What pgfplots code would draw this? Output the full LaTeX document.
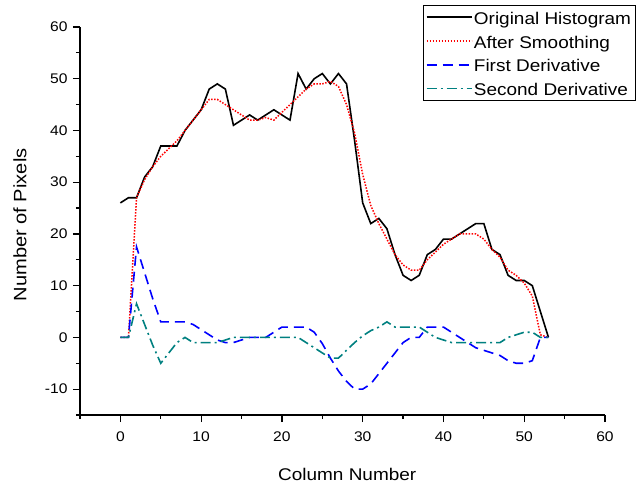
\documentclass[border=0pt]{standalone}
\usepackage{fontspec}
\setmainfont{Liberation Sans}[FakeStretch=1.12]
\usepackage{pgfplots}
\usepackage{pgfplotstable}
\pgfplotsset{compat=1.18}
\definecolor{tealc}{RGB}{0,128,128}

\pgfplotstableread{
x orig smooth first second
0 26 0 0 0
1 27 0 0 0
2 27 27 17.5 6.5
3 31 30.5 12.5 2.5
4 33 33 7.5 -1.5
5 37 35 3 -5
6 37 36.5 3 -3
7 37 38 3 -1
8 40 40 3 0
9 42 42 2.5 -1
10 44 44 1.5 -1
11 48 46 0.5 -1
12 49 46 -0.5 -1
13 48 45 -1 -0.5
14 41 44 -1 0
15 42 43 -0.5 0
16 43 42 0 0
17 42 42 0 0
18 43 42.5 0 0
19 44 42 1 0
20 43 43.5 2 0
21 42 45 2 0
22 51 46.5 2 0
23 48 48 2 -1
24 50 49 1 -2
25 51 49 -1.2 -3
26 49 49.5 -4 -4
27 51 48.5 -6.5 -4
28 49 45 -8.5 -2.5
29 38 39.5 -10 -1
30 26 31.5 -10 0.3
31 22 25.5 -9 1.3
32 23 22 -7 2
33 21 19 -5 3
34 16 16 -3 2
35 12 14 -1 2
36 11 13 0 2
37 12 13 0 2
38 16 15 2 1
39 17 16.5 2 0
40 19 18 2 -0.5
41 19 19 1 -1
42 20 20 0 -1
43 21 20 -1 -1
44 22 20 -2 -1
45 22 19 -2.5 -1
46 17 17 -3 -1
47 16 15.5 -3.5 -1
48 12 13 -4.5 0
49 11 12 -5 0.5
50 11 10.5 -5 1
51 10 8 -4.5 1
52 5 0.5 0 0
53 0 0 0 0
}\datatable

\begin{document}
\begin{tikzpicture}
\useasboundingbox (-80bp,-73bp) rectangle (556bp,415bp);
\begin{axis}[
  at={(0,0)}, anchor=south west,
  scale only axis,
  width=525bp, height=388bp,
  xmin=-5, xmax=60, ymin=-15, ymax=60,
  axis lines*=left,
  axis line style={black, line width=1.2bp},
  xtick={0,10,...,60}, minor xtick={-5,5,...,55},
  ytick={-10,0,...,60}, minor ytick={-15,-5,...,55},
  tick align=outside,
  major tick length=7bp, minor tick length=4bp,
  every tick/.style={black, line width=1.2bp},
  /pgf/number format/assume math mode=true,
  tick label style={font=\fontsize{14}{16}\selectfont},
  xticklabel style={yshift=-6bp},
  yticklabel style={xshift=-2bp},
  xlabel={Column Number},
  ylabel={Number of Pixels},
  xlabel style={font=\fontsize{17}{19}\selectfont, at={(axis description cs:0.509,-0.168)}, anchor=base},
  ylabel style={font=\fontsize{18}{20}\selectfont, at={(axis description cs:-0.102,0.49)}, anchor=base, rotate=0},
  legend style={at={(rel axis cs:1.0581,1.057)}, anchor=north east,
    draw=black, line width=1bp, font=\fontsize{17}{19}\selectfont,
    inner xsep=2.5bp, inner ysep=0.5bp, row sep=1bp,
    nodes={text height=17bp, text depth=2.8bp, inner sep=1.5bp}},
  legend cell align=left,
  legend image code/.code={\draw[#1] (0bp,0bp) -- (45bp,0bp);},
]
\addplot[black, line width=1.6bp] table[x=x, y=orig] {\datatable};
\addlegendentry{Original Histogram}
\addplot[red, line width=1.5bp, dash pattern=on 1.5bp off 1.5bp] table[x=x, y=smooth] {\datatable};
\addlegendentry{After Smoothing}
\addplot[blue, line width=1.6bp, dash pattern=on 10bp off 6bp] table[x=x, y=first] {\datatable};
\addlegendentry{First Derivative}
\addplot[tealc, line width=1.6bp, dash pattern=on 10bp off 4bp on 2bp off 4bp] table[x=x, y=second] {\datatable};
\addlegendentry{Second Derivative}
\end{axis}
\end{tikzpicture}
\end{document}
